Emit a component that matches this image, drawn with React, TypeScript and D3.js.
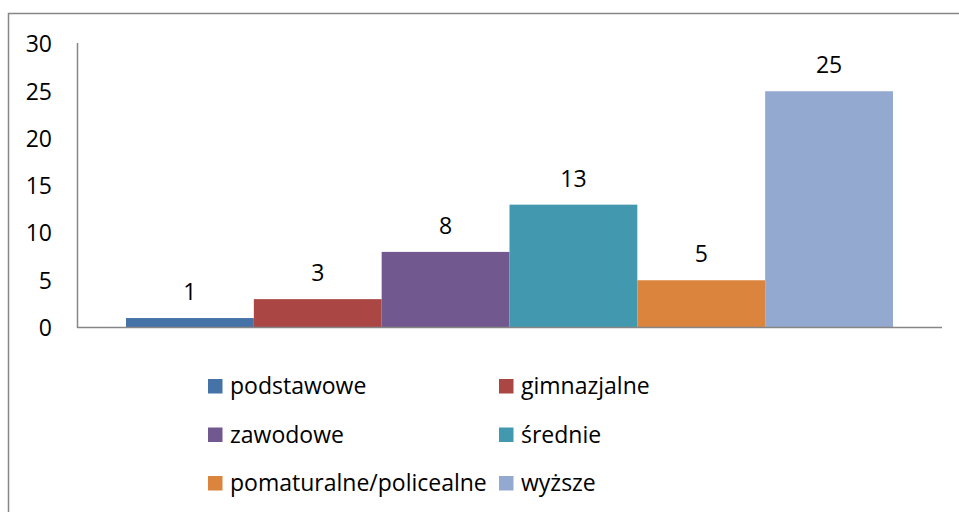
import { useEffect, useRef } from 'react';
import * as d3 from 'd3';

const CATEGORIES = ['podstawowe', 'gimnazjalne', 'zawodowe', 'średnie', 'pomaturalne/policealne', 'wyższe'];
const VALUES = [1, 3, 8, 13, 5, 25];
const COLORS = ['#4572A7', '#AA4643', '#71588F', '#4198AF', '#DB843D', '#93A9CF'];
const Y_TICKS = [0, 5, 10, 15, 20, 25, 30];

const W = 959;
const H = 512;
const FONT = '"Open Sans", sans-serif';

export default function App() {
  const svgRef = useRef<SVGSVGElement | null>(null);

  useEffect(() => {
    const svg = d3.select(svgRef.current);
    svg.selectAll('*').remove();

    // outer chart frame (right/bottom edges fall outside the window)
    svg.append('rect')
      .attr('x', 8.5).attr('y', 13.5)
      .attr('width', 1000).attr('height', 600)
      .attr('fill', '#fff').attr('stroke', '#868686').attr('stroke-width', 1.5);

    const y = d3.scaleLinear().domain([0, 30]).range([327.5, 44]);
    const x = d3.scaleBand<string>().domain(CATEGORIES).range([126, 893]).padding(0);

    // bars
    svg.append('g').selectAll('rect').data(VALUES).join('rect')
      .attr('x', (_, i) => x(CATEGORIES[i])!)
      .attr('y', d => y(d))
      .attr('width', x.bandwidth())
      .attr('height', d => y(0) - y(d))
      .attr('fill', (_, i) => COLORS[i]);

    // value labels
    svg.append('g').selectAll('text').data(VALUES).join('text')
      .attr('x', (_, i) => x(CATEGORIES[i])! + x.bandwidth() / 2)
      .attr('y', d => y(d) - 18)
      .attr('text-anchor', 'middle')
      .attr('font-family', FONT).attr('font-size', 23).attr('fill', '#000')
      .text(d => d);

    // axes lines
    svg.append('line')
      .attr('x1', 77.5).attr('x2', 77.5).attr('y1', 43).attr('y2', 328)
      .attr('stroke', '#868686').attr('stroke-width', 1.5);
    svg.append('line')
      .attr('x1', 77).attr('x2', 942).attr('y1', 327.5).attr('y2', 327.5)
      .attr('stroke', '#868686').attr('stroke-width', 1.5);

    // y tick labels
    svg.append('g').selectAll('text').data(Y_TICKS).join('text')
      .attr('x', 52)
      .attr('y', d => y(d))
      .attr('dy', '0.36em')
      .attr('text-anchor', 'end')
      .attr('font-family', FONT).attr('font-size', 23).attr('fill', '#000')
      .text(d => d);

    // legend, two columns
    const legend = svg.append('g').selectAll('g').data(CATEGORIES).join('g')
      .attr('transform', (_, i) => `translate(${i % 2 === 0 ? 208 : 499},${386 + Math.floor(i / 2) * 48.5})`);
    legend.append('rect')
      .attr('x', 0).attr('y', -7).attr('width', 14.5).attr('height', 14.5)
      .attr('fill', (_, i) => COLORS[i]);
    legend.append('text')
      .attr('x', 22).attr('y', 0).attr('dy', '0.35em')
      .attr('font-family', FONT).attr('font-size', 23).attr('fill', '#000')
      .text(d => d);
  }, []);

  return (
    <svg
      ref={svgRef}
      width={W}
      height={H}
      style={{ position: 'absolute', left: 0, top: 0, background: '#fff' }}
    />
  );
}
